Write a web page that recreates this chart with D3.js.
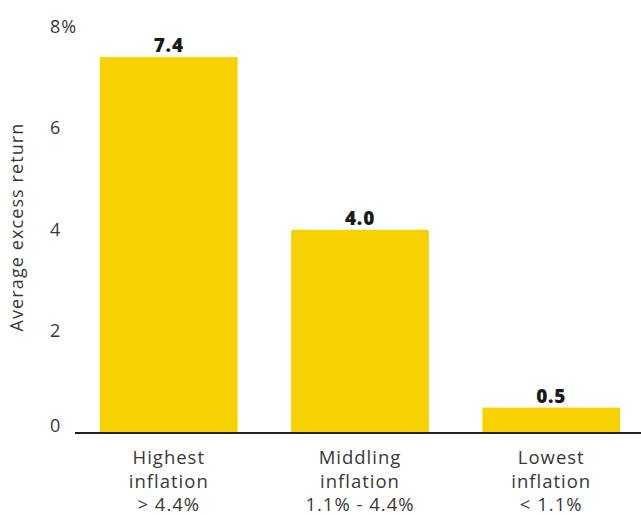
<!DOCTYPE html>
<html>
<head>
<meta charset="utf-8">
<script src="https://cdn.jsdelivr.net/npm/d3@7"></script>
<style>
  html, body { margin: 0; padding: 0; background: #fff; }
  svg { display: block; }
  text { font-family: "Open Sans", "Noto Sans", sans-serif; fill: #383838; }
</style>
</head>
<body>
<svg id="chart" width="641" height="515"></svg>
<script>
// Average excess return by inflation regime
const categories = ["Highest", "Middling", "Lowest"];
const categoryLines = [
  ["Highest", "inflation", "> 4.4%"],
  ["Middling", "inflation", "1.1% - 4.4%"],
  ["Lowest", "inflation", "< 1.1%"]
];
const values = [7.4, 4.0, 0.5];
const yTicks = [0, 2, 4, 6, 8];
const yTickLabels = ["0", "2", "4", "6", "8%"];
const yTitle = "Average excess return";

const svg = d3.select("#chart");
const x0 = 75, x1 = 641, yBase = 433;

const x = d3.scaleBand()
  .domain(categories)
  .range([x0 + 2, x1 + 2])
  .paddingInner(0.28)
  .paddingOuter(0.12);

const y = d3.scaleLinear().domain([0, 8]).range([yBase, 26.6]);

// bars
svg.selectAll("rect.bar")
  .data(values)
  .join("rect")
  .attr("class", "bar")
  .attr("x", (d, i) => x(categories[i]))
  .attr("width", x.bandwidth())
  .attr("y", d => y(d))
  .attr("height", d => y(0) - y(d))
  .attr("fill", "#F7D200");

// value labels
svg.selectAll("text.val")
  .data(values)
  .join("text")
  .attr("class", "val")
  .attr("x", (d, i) => x(categories[i]) + x.bandwidth() / 2)
  .attr("y", d => y(d) - 5)
  .attr("text-anchor", "middle")
  .style("font-size", "19px")
  .style("font-weight", 800)
  .style("letter-spacing", "0.8px")
  .style("fill", "#1a1a1a")
  .text(d => d.toFixed(1));

// y tick labels (zero sits just above the baseline)
svg.selectAll("text.ytick")
  .data(yTicks)
  .join("text")
  .attr("class", "ytick")
  .attr("x", 50)
  .attr("y", d => Math.min(y(d) + 6, yBase - 1))
  .style("font-size", "18px")
  .style("letter-spacing", "1px")
  .text((d, i) => yTickLabels[i]);

// baseline
svg.append("line")
  .attr("x1", x0).attr("x2", x1)
  .attr("y1", yBase).attr("y2", yBase)
  .attr("stroke", "#222").attr("stroke-width", 2);

// category labels
const cat = svg.selectAll("g.cat")
  .data(categoryLines)
  .join("g")
  .attr("class", "cat")
  .attr("transform", (d, i) => `translate(${x(categories[i]) + x.bandwidth() / 2},0)`);
cat.selectAll("text")
  .data(d => d)
  .join("text")
  .attr("x", 0)
  .attr("y", (d, j) => 464 + j * 23.5)
  .attr("text-anchor", "middle")
  .style("font-size", "18.5px")
  .style("letter-spacing", "1px")
  .text(d => d);

// y axis title
svg.append("text")
  .attr("transform", "translate(23,227) rotate(-90)")
  .attr("text-anchor", "middle")
  .style("font-size", "18px")
  .style("letter-spacing", "1.1px")
  .text(yTitle);
</script>
</body>
</html>
